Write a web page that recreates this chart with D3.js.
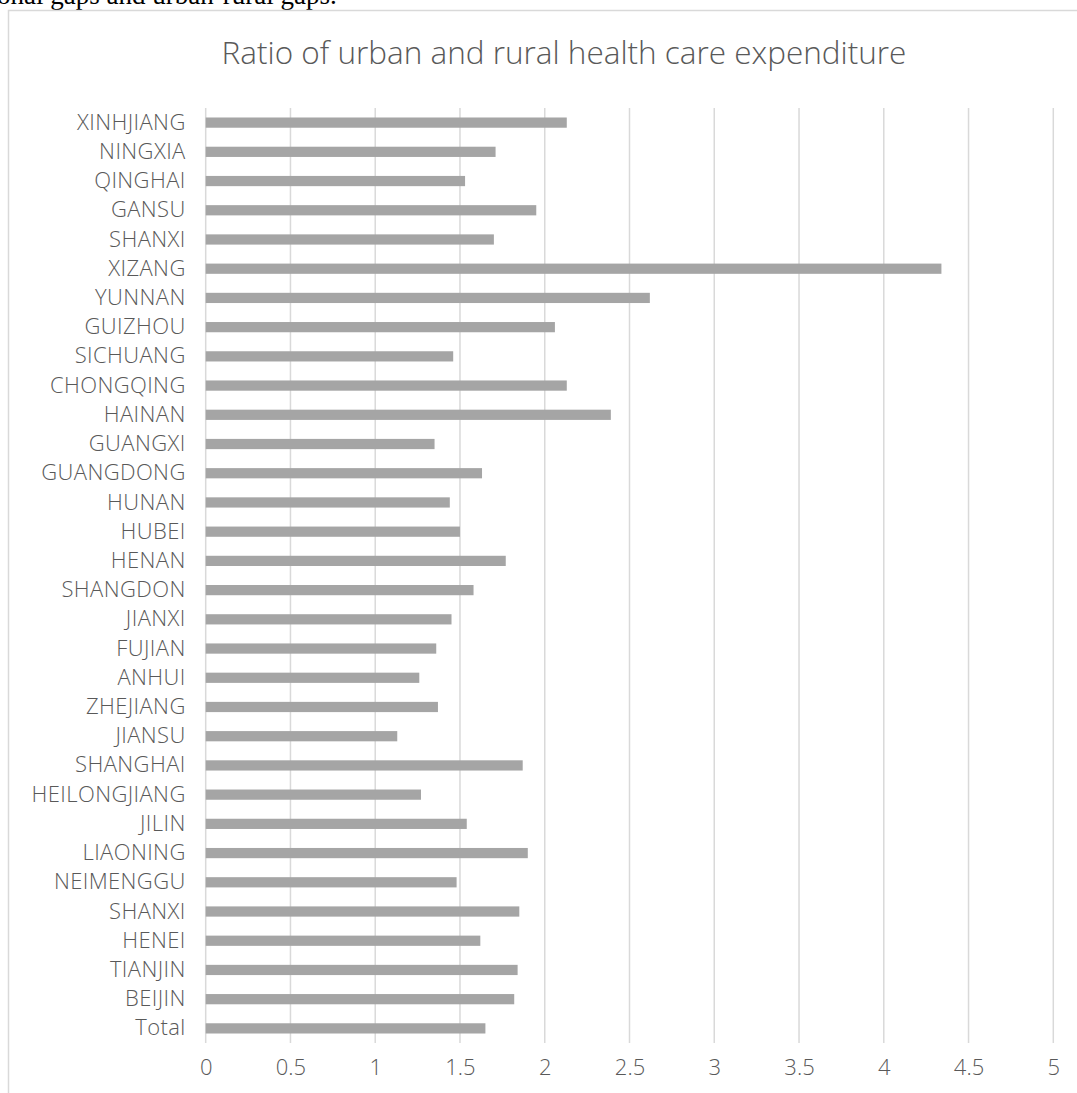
<!DOCTYPE html>
<html>
<head>
<meta charset="utf-8">
<script src="https://cdn.jsdelivr.net/npm/d3@7"></script>
<style>
  body { margin: 0; background: #fff; }
  svg { display: block; }
</style>
</head>
<body>
<div id="chart"></div>
<script>
// regions, top to bottom as shown
const regions = ['XINHJIANG', 'NINGXIA', 'QINGHAI', 'GANSU', 'SHANXI', 'XIZANG', 'YUNNAN',
    'GUIZHOU', 'SICHUANG', 'CHONGQING', 'HAINAN', 'GUANGXI', 'GUANGDONG', 'HUNAN', 'HUBEI',
    'HENAN', 'SHANGDON', 'JIANXI', 'FUJIAN', 'ANHUI', 'ZHEJIANG', 'JIANSU', 'SHANGHAI',
    'HEILONGJIANG', 'JILIN', 'LIAONING', 'NEIMENGGU', 'SHANXI ', 'HENEI', 'TIANJIN', 'BEIJIN', 'Total'];
const ratios = [2.13, 1.71, 1.53, 1.95, 1.70, 4.34, 2.62,
    2.06, 1.46, 2.13, 2.39, 1.35, 1.63, 1.44, 1.50,
    1.77, 1.58, 1.45, 1.36, 1.26, 1.37, 1.13, 1.87,
    1.27, 1.54, 1.90, 1.48, 1.85, 1.62, 1.84, 1.82, 1.65];
const xTicks = [0, 0.5, 1, 1.5, 2, 2.5, 3, 3.5, 4, 4.5, 5];

const chartTitle = 'Ratio of urban and rural health care expenditure';
const captionTail = 'onal gaps and urban-rural gaps.';

const W = 1077, H = 1093;
const margin = { top: 108, right: 23.7, bottom: 50, left: 205.7 };
const labelFont = '"Open Sans", "Noto Sans", sans-serif';

const data = regions.map((r, i) => ({ region: r, value: ratios[i] }));

const svg = d3.select('#chart')
    .append('svg')
    .attr('width', W)
    .attr('height', H);

// leftover text from the document above the chart
svg.append('text')
    .attr('x', -3)
    .attr('y', 4)
    .style('font-family', '"Liberation Serif", serif')
    .style('font-size', '27px')
    .style('fill', '#000')
    .text(captionTail);

// chart frame
svg.append('rect')
    .attr('x', 8.5)
    .attr('y', 10.5)
    .attr('width', W + 10)
    .attr('height', H + 10)
    .attr('fill', 'none')
    .attr('stroke', '#d9d9d9')
    .attr('stroke-width', 1.5);

const xScale = d3.scaleLinear()
    .domain([0, 5])
    .range([margin.left, W - margin.right]);

const yScale = d3.scaleBand()
    .domain(regions)
    .range([margin.top, H - margin.bottom])
    .paddingInner(0.65)
    .paddingOuter(0.325);

const plotBottom = H - margin.bottom;

// vertical gridlines
svg.append('g')
    .selectAll('line')
    .data(xTicks)
    .join('line')
    .attr('x1', d => xScale(d))
    .attr('x2', d => xScale(d))
    .attr('y1', margin.top)
    .attr('y2', plotBottom)
    .attr('stroke', '#d9d9d9')
    .attr('stroke-width', 1.5);

// x axis labels
const xAxis = svg.append('g')
    .attr('transform', `translate(0, ${plotBottom})`)
    .call(d3.axisBottom(xScale).tickValues(xTicks).tickSize(0).tickPadding(16).tickFormat(d3.format('')));
xAxis.select('.domain').remove();
xAxis.selectAll('text')
    .style('font-family', labelFont)
    .style('font-weight', 300)
    .style('font-size', '22px')
    .style('fill', '#595959');

// y axis labels
const yAxis = svg.append('g')
    .attr('transform', `translate(${margin.left}, 0)`)
    .call(d3.axisLeft(yScale).tickSize(0).tickPadding(20));
yAxis.select('.domain').remove();
yAxis.selectAll('text')
    .style('font-family', labelFont)
    .style('font-weight', 300)
    .style('font-size', '22px')
    .style('letter-spacing', '0.4px')
    .style('fill', '#595959');

// bars
svg.append('g')
    .selectAll('rect')
    .data(data)
    .join('rect')
    .attr('x', xScale(0))
    .attr('y', d => yScale(d.region))
    .attr('width', d => xScale(d.value) - xScale(0))
    .attr('height', yScale.bandwidth())
    .attr('fill', '#a5a5a5');

// title
svg.append('text')
    .attr('x', 564)
    .attr('y', 64)
    .attr('text-anchor', 'middle')
    .style('font-family', labelFont)
    .style('font-weight', 300)
    .style('font-size', '31.5px')
    .style('fill', '#595959')
    .text(chartTitle);
</script>
</body>
</html>
